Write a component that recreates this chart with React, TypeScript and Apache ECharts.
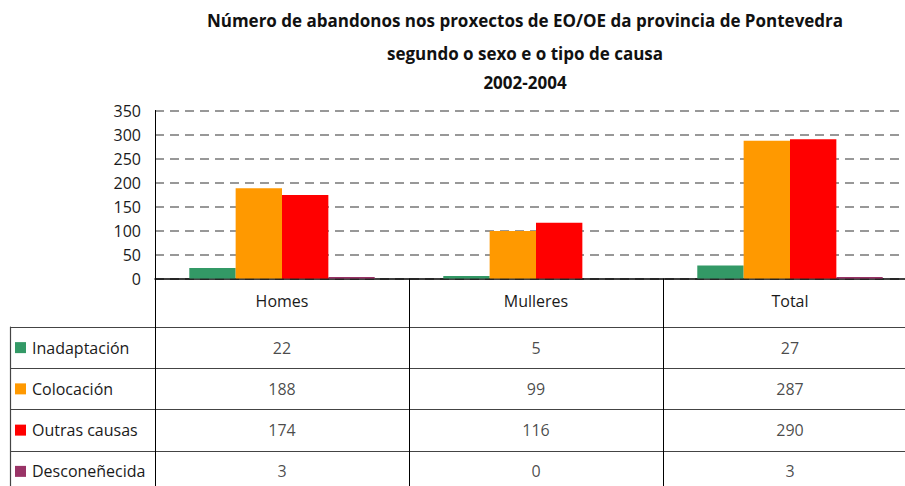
import React, { useEffect, useRef } from "react";
import * as echarts from "echarts";

const titleLines = [
  "Número de abandonos nos proxectos de EO/OE da provincia de Pontevedra",
  "segundo o sexo e o tipo de causa",
  "2002-2004",
];
const categories = ["Homes", "Mulleres", "Total"];
const causes = ["Inadaptación", "Colocación", "Outras causas", "Desconeñecida"];
const inadaptacion = [22, 5, 27];
const colocacion = [188, 99, 287];
const outrasCausas = [174, 116, 290];
const desconecida = [3, 0, 3];
const colors = ["#339966", "#FF9900", "#FF0000", "#993366"];
const yTicks = { min: 0, max: 350, interval: 50 };

const FONT = "'Open Sans', 'Liberation Sans', sans-serif";

export default function App() {
  const ref = useRef<HTMLDivElement>(null);
  useEffect(() => {
    if (!ref.current) return;
    const chart = echarts.init(ref.current, null, { renderer: "svg" });
    const seriesValues = [inadaptacion, colocacion, outrasCausas, desconecida];

    const tableData: any[] = [];
    causes.forEach((c, i) => {
      categories.forEach((cat, j) => {
        tableData.push([cat, c, seriesValues[i][j]]);
      });
    });

    const rich: any = {
      t: { fontSize: 16, fontFamily: FONT, color: "#1a1a1a", padding: [0, 0, 0, 6] },
    };
    colors.forEach((col, i) => {
      rich["s" + i] = { width: 11, height: 11, backgroundColor: col };
    });

    chart.setOption({
      animation: false,
      backgroundColor: "#ffffff",
      title: titleLines.map((t, i) => ({
        text: t,
        left: 525,
        textAlign: "center",
        top: [12, 45, 74][i],
        padding: 0,
        textStyle: { fontSize: 17, fontWeight: "bold", fontFamily: FONT, color: "#111" },
      })),
      grid: [
        { left: 155, right: 0, top: 110.5, bottom: 213.5 },
        { left: 155, right: 0, top: 327, bottom: 0 },
      ],
      xAxis: [
        {
          type: "category",
          gridIndex: 0,
          data: categories,
          boundaryGap: true,
          axisLine: { show: true, lineStyle: { color: "#000", width: 1.5 } },
          axisTick: { show: true, length: 49, lineStyle: { color: "#000", width: 1 } },
          axisLabel: { margin: 14, fontSize: 16, fontFamily: FONT, color: "#1a1a1a" },
          splitLine: { show: false },
        },
        {
          type: "category",
          gridIndex: 1,
          data: categories,
          boundaryGap: true,
          axisLine: { show: false },
          axisTick: { show: false },
          axisLabel: { show: false },
          splitLine: { show: true, lineStyle: { color: "#000", width: 1 } },
        },
      ],
      yAxis: [
        {
          type: "value",
          gridIndex: 0,
          min: yTicks.min,
          max: yTicks.max,
          interval: yTicks.interval,
          axisLine: { show: true, lineStyle: { color: "#000", width: 1 } },
          axisTick: { show: false },
          axisLabel: { margin: 14, fontSize: 16, fontFamily: FONT, color: "#1a1a1a" },
          splitLine: { show: true, lineStyle: { color: "#777", type: [9, 6], width: 1.5 } },
        },
        {
          type: "category",
          gridIndex: 1,
          data: causes,
          inverse: true,
          boundaryGap: true,
          axisLine: { show: true, lineStyle: { color: "#000", width: 1 } },
          axisTick: { show: true, length: 145, lineStyle: { color: "#444", width: 1.2 } },
          axisLabel: {
            align: "left",
            margin: 140,
            formatter: (v: string, i: number) => `{s${i}|}{t|${v}}`,
            rich,
          },
          splitLine: { show: true, lineStyle: { color: "#444", width: 1.2 } },
        },
        {
          type: "category",
          gridIndex: 1,
          data: causes,
          inverse: true,
          position: "left",
          offset: 145,
          axisLine: { show: true, lineStyle: { color: "#444", width: 1.2 } },
          axisTick: { show: false },
          axisLabel: { show: false },
          splitLine: { show: false },
        },
      ],
      series: [
        ...causes.map((c, i) => ({
          name: c,
          type: "bar",
          xAxisIndex: 0,
          yAxisIndex: 0,
          data: seriesValues[i],
          barGap: "0%",
          barCategoryGap: "27%",
          itemStyle: { color: colors[i] },
        })),
        {
          type: "scatter",
          xAxisIndex: 1,
          yAxisIndex: 1,
          data: tableData,
          symbolSize: 1,
          itemStyle: { color: "transparent" },
          label: {
            show: true,
            position: "inside",
            formatter: (p: any) => String(p.data[2]),
            fontSize: 16,
            fontFamily: FONT,
            color: "#1a1a1a",
          },
        },
      ],
    });
    return () => chart.dispose();
  }, []);
  return (
    <div style={{ position: "absolute", left: 0, top: 0, width: 905, height: 486, overflow: "hidden" }}>
      <div ref={ref} style={{ position: "absolute", left: 0, top: 0, width: 917, height: 492 }} />
    </div>
  );
}
